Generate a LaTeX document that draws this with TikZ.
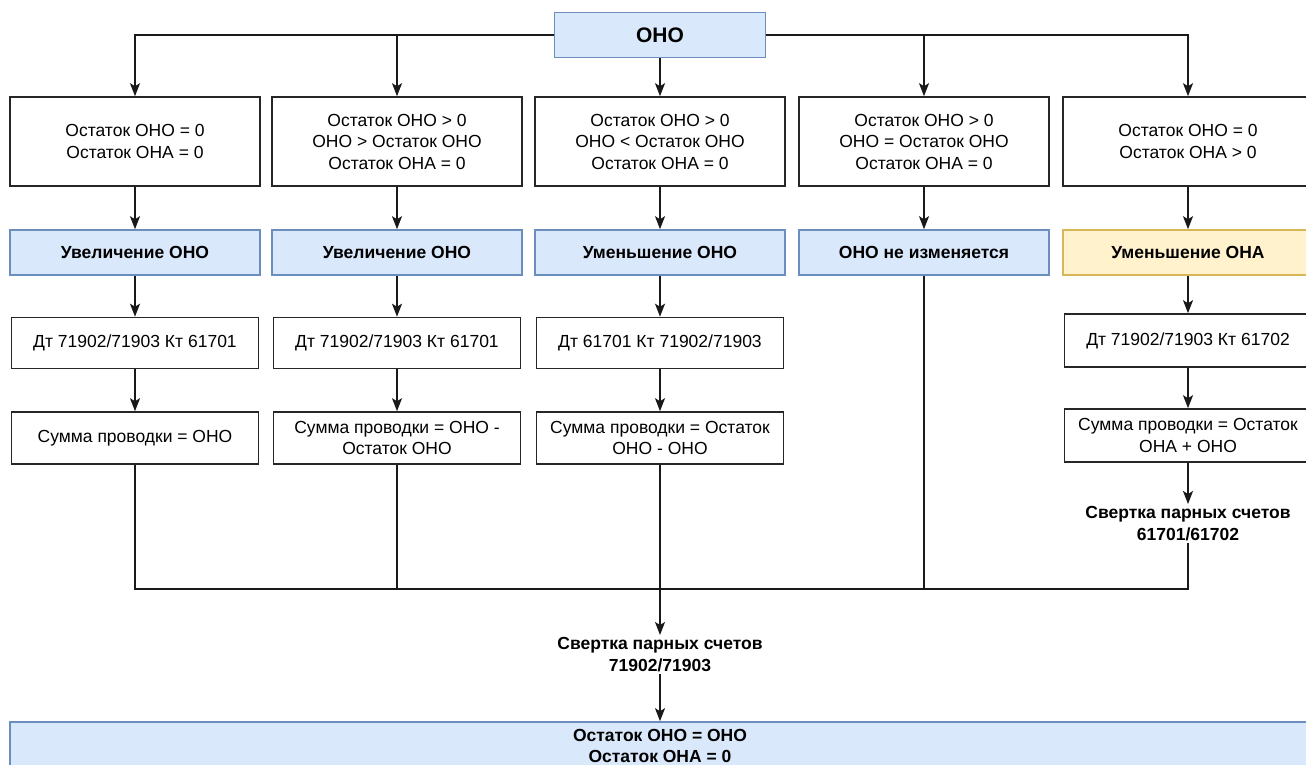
\documentclass[tikz,border=0pt]{standalone}
\usepackage{fontspec}
\setmainfont{Liberation Sans}
\usetikzlibrary{arrows.meta}
\definecolor{bfill}{HTML}{DAE8FC}
\definecolor{bline}{HTML}{6C8EBF}
\definecolor{yfill}{HTML}{FFF2CC}
\definecolor{yline}{HTML}{D6B656}
\begin{document}
\begin{tikzpicture}[x=1pt,y=-1pt,
  box/.style={draw=black!85, line width=1.6pt, fill=white, align=center, inner sep=0pt,
    font=\fontsize{17.5}{21.5}\selectfont},
  condbox/.style={box, minimum width=250pt, minimum height=89pt},
  bluebox/.style={box, draw=bline, fill=bfill, minimum width=250pt, minimum height=45pt,
    font=\fontsize{17.5}{21.5}\selectfont\bfseries},
  yellowbox/.style={bluebox, draw=yline, fill=yfill},
  postbox/.style={box, minimum width=247pt, minimum height=51pt},
  lbl/.style={align=center, inner sep=2pt, font=\fontsize{17.5}{22}\selectfont\bfseries},
  arr/.style={-{Stealth[length=13pt,width=10pt,inset=3pt]}, line width=1.5pt, black!90},
  ln/.style={line width=1.5pt, black!90}]
\useasboundingbox (0,0) rectangle (1306,765);

% top
\node[bluebox, minimum width=211pt, font=\fontsize{21}{24}\selectfont\bfseries] (top) at (660,35) {ОНО};

% row 1
\node[condbox] (r1a) at (135,141.5) {Остаток ОНО = 0\\Остаток ОНА = 0};
\node[condbox] (r1b) at (397,141.5) {Остаток ОНО > 0\\ОНО > Остаток ОНО\\Остаток ОНА = 0};
\node[condbox] (r1c) at (660,141.5) {Остаток ОНО > 0\\ОНО < Остаток ОНО\\Остаток ОНА = 0};
\node[condbox] (r1d) at (924,141.5) {Остаток ОНО > 0\\ОНО = Остаток ОНО\\Остаток ОНА = 0};
\node[condbox] (r1e) at (1188,141.5) {Остаток ОНО = 0\\Остаток ОНА > 0};

% row 2
\node[bluebox] (r2a) at (135,252.5) {Увеличение ОНО};
\node[bluebox] (r2b) at (397,252.5) {Увеличение ОНО};
\node[bluebox] (r2c) at (660,252.5) {Уменьшение ОНО};
\node[bluebox] (r2d) at (924,252.5) {ОНО не изменяется};
\node[yellowbox] (r2e) at (1188,252.5) {Уменьшение ОНА};

% row 3
\node[postbox] (r3a) at (135,343) {Дт 71902/71903 Кт 61701};
\node[postbox] (r3b) at (397,343) {Дт 71902/71903 Кт 61701};
\node[postbox] (r3c) at (660,343) {Дт 61701 Кт 71902/71903};
\node[postbox, minimum height=53pt] (r3e) at (1188,340.5) {Дт 71902/71903 Кт 61702};

% row 4
\node[postbox, minimum height=52pt] (r4a) at (135,438) {Сумма проводки = ОНО};
\node[postbox, minimum height=52pt] (r4b) at (397,438) {Сумма проводки = ОНО -\\Остаток ОНО};
\node[postbox, minimum height=52pt] (r4c) at (660,438) {Сумма проводки = Остаток\\ОНО - ОНО};
\node[postbox, minimum height=53pt] (r4e) at (1188,435.5) {Сумма проводки = Остаток\\ОНА + ОНО};

% labels
\node[lbl] (sv2) at (1188,523.5) {Свертка парных счетов\\61701/61702};
\node[lbl] (sv1) at (660,654.5) {Свертка парных счетов\\71902/71903};

% final
\node[box, draw=bline, fill=bfill, minimum width=1300pt, minimum height=47pt,
  font=\fontsize{17.5}{21}\selectfont\bfseries] (fin) at (660,745.5) {Остаток ОНО = ОНО\\Остаток ОНА = 0};

% connectors from top
\draw[arr] (top.west) -| (r1a.north);
\draw[arr] (top.west) -| (r1b.north);
\draw[arr] (top.south) -- (r1c.north);
\draw[arr] (top.east) -| (r1d.north);
\draw[arr] (top.east) -| (r1e.north);

% row 1 -> row 2
\foreach \c in {a,b,c,d,e} { \draw[arr] (r1\c.south) -- (r2\c.north); }
% row 2 -> row 3
\foreach \c in {a,b,c,e} { \draw[arr] (r2\c.south) -- (r3\c.north); }
% row 3 -> row 4
\foreach \c in {a,b,c,e} { \draw[arr] (r3\c.south) -- (r4\c.north); }

\draw[arr] (r4e.south) -- (sv2.north);

% join
\coordinate (jy) at (0,589);
\draw[ln] (r4a.south) |- (r4c.south |- jy);
\draw[ln] (r4b.south) -- (r4b.south |- jy);
\draw[ln] (r2d.south) -- (r2d.south |- jy);
\draw[ln] (sv2.south) |- (r4c.south |- jy);
\draw[arr] (r4c.south) -- (sv1.north);
\draw[arr] (sv1.south) -- (fin.north);
\end{tikzpicture}
\end{document}
